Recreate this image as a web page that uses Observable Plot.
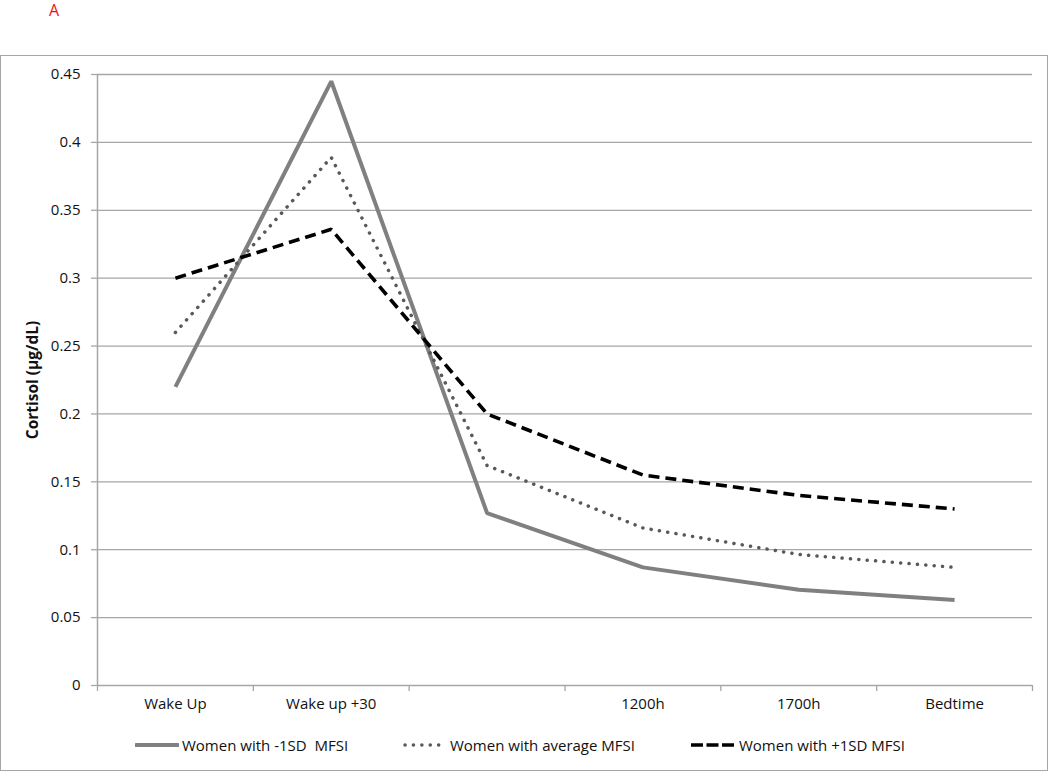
<!DOCTYPE html>
<html><head><meta charset="utf-8">
<script src="https://cdn.jsdelivr.net/npm/d3@7"></script>
<script src="https://cdn.jsdelivr.net/npm/@observablehq/plot@0.6"></script>
<style>
body{margin:0;background:#fff;font-family:"Open Sans",sans-serif;}
#lab{position:absolute;left:49px;top:0px;color:#ee1111;font-size:16px;line-height:20px;}
#box{position:absolute;left:0;top:55px;width:1046px;height:714px;border:1px solid #a6a6a6;}
#chart{position:absolute;left:0;top:0;}
.leg{position:absolute;top:678px;height:22px;line-height:22px;font-size:15px;color:#111;white-space:pre;display:flex;align-items:center;}
.leg svg{margin-right:3px;}
</style></head>
<body>
<div id="lab">A</div>
<div id="box"><div id="chart"></div></div>
<script>
const categories = ["Wake Up", "Wake up +30", "", "1200h", "1700h", "Bedtime"];
const seriesNames = ["Women with -1SD  MFSI", "Women with average MFSI", "Women with +1SD MFSI"];
const lowMFSI  = [0.220, 0.445, 0.127, 0.087, 0.0705, 0.063];
const avgMFSI  = [0.260, 0.389, 0.162, 0.116, 0.0965, 0.087];
const highMFSI = [0.300, 0.336, 0.200, 0.155, 0.140, 0.130];
const yTicks = [0, 0.05, 0.1, 0.15, 0.2, 0.25, 0.3, 0.35, 0.4, 0.45];
const yLabel = "Cortisol (µg/dL)";

const toRows = (vals) => vals.map((v, i) => ({xi: i + 0.5, v}));
const xBounds = d3.range(categories.length + 1);
const grey = "#a6a6a6";

const plot = Plot.plot({
  width: 1046, height: 670,
  marginLeft: 96, marginRight: 15, marginTop: 18, marginBottom: 41,
  style: {fontFamily: "Open Sans, sans-serif", fontSize: "15px", color: "#111", background: "transparent"},
  x: {domain: [0, categories.length]},
  y: {domain: [0, 0.45]},
  marks: [
    Plot.ruleY(yTicks.filter(d => d > 0), {stroke: grey, strokeWidth: 1.3}),
    Plot.axisY({ticks: yTicks, tickSize: 6, tickPadding: 11, tickFormat: d => String(d), stroke: grey, strokeWidth: 1.3, label: null, fontSize: 15}),
    Plot.axisX({ticks: xBounds, tickSize: 6, tickFormat: () => "", stroke: grey, strokeWidth: 1.3, label: null}),
    Plot.ruleY([0], {stroke: grey, strokeWidth: 1.5}),
    Plot.ruleX([0], {stroke: grey, strokeWidth: 1.5}),
    Plot.text(categories, {x: (d, i) => i + 0.5, text: d => d, frameAnchor: "bottom", dy: 23, fontSize: 15, fill: "#111"}),
    Plot.text([yLabel], {frameAnchor: "left", rotate: -90, dx: -64, textAnchor: "middle", lineAnchor: "middle", fontWeight: "bold", fontSize: 15.5, fill: "#111"}),
    Plot.line(toRows(lowMFSI), {x: "xi", y: "v", stroke: "#808080", strokeWidth: 4, strokeLinejoin: "miter", strokeLinecap: "butt"}),
    Plot.line(toRows(avgMFSI), {x: "xi", y: "v", stroke: "#595959", strokeWidth: 3.5, strokeDasharray: "0.1 8.3", strokeLinecap: "round"}),
    Plot.line(toRows(highMFSI), {x: "xi", y: "v", stroke: "#000", strokeWidth: 3.6, strokeDasharray: "11 6", strokeLinecap: "butt", strokeLinejoin: "miter"})
  ]
});
document.getElementById("chart").appendChild(plot);

// legend
const box = document.getElementById("box");
const legPos = [134, 402, 689];
const swatches = [
  `<svg width="44" height="10"><line x1="1" y1="5" x2="43" y2="5" stroke="#808080" stroke-width="4" stroke-linecap="round"/></svg>`,
  `<svg width="44" height="10"><line x1="2" y1="5" x2="40" y2="5" stroke="#595959" stroke-width="3.5" stroke-dasharray="0.1 8.3" stroke-linecap="round"/></svg>`,
  `<svg width="46" height="10"><line x1="1" y1="5" x2="45" y2="5" stroke="#000" stroke-width="3.6" stroke-dasharray="12 3.5" /></svg>`
];
seriesNames.forEach((name, i) => {
  const d = document.createElement("div");
  d.className = "leg";
  d.style.left = legPos[i] + "px";
  d.innerHTML = swatches[i] + "<span></span>";
  d.querySelector("span").textContent = name;
  box.appendChild(d);
});
</script>
</body></html>
